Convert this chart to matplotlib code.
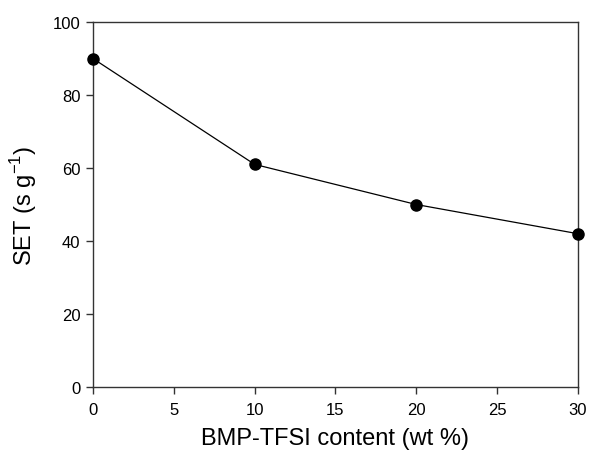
import matplotlib
matplotlib.use("Agg")
import matplotlib.pyplot as plt

plt.rcParams['font.family'] = ['Liberation Sans', 'DejaVu Sans']
plt.rcParams['mathtext.fontset'] = 'custom'
plt.rcParams['mathtext.rm'] = 'Liberation Sans'

# data
content = [0, 10, 20, 30]
set_values = [90, 61, 50, 42]

fig = plt.figure(figsize=(5.9, 4.52), dpi=100)
ax = fig.add_axes([0.1576, 0.1416, 0.822, 0.8074])

ax.plot(content, set_values, color='black', lw=0.9, marker='o', ms=8,
        mfc='black', mec='black', clip_on=False, zorder=3)

ax.set_xlim(0, 30)
ax.set_ylim(0, 100)
ax.set_xticks([0, 5, 10, 15, 20, 25, 30])
ax.set_yticks([0, 20, 40, 60, 80, 100])

for s in ax.spines.values():
    s.set_linewidth(1.0)
    s.set_color('#333333')
ax.tick_params(direction='out', length=5, width=1.0, color='#333333',
               labelsize=12, top=False, right=False)
ax.tick_params(axis='x', pad=6)
ax.tick_params(axis='y', pad=4)

ax.set_xlabel('BMP-TFSI content (wt %)', fontsize=17, labelpad=7)
ax.set_ylabel('SET (s g$^{\\mathregular{-1}}$)', fontsize=17, labelpad=10)

fig.savefig('out.png', dpi=100)
